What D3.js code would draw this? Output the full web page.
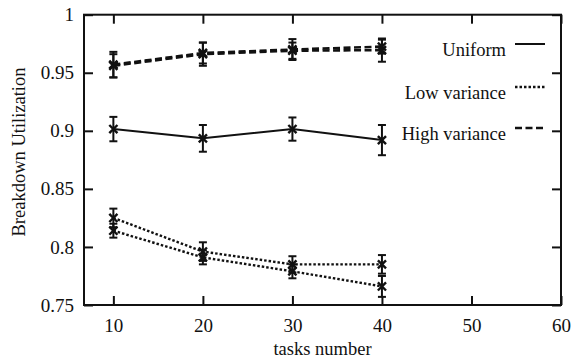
<!DOCTYPE html>
<html><head><meta charset="utf-8">
<script src="https://cdn.jsdelivr.net/npm/d3@7"></script>
<style>body{margin:0;background:#fff}svg{display:block}text{font-family:"Liberation Serif","Times New Roman",serif;fill:#111}</style>
</head><body><svg id="c" width="579" height="361"></svg>
<script>
const tasks = [10, 20, 30, 40];
const xTicks = [10, 20, 30, 40, 50, 60];
const yTicks = [0.75, 0.8, 0.85, 0.9, 0.95, 1];
const yTickLabels = ["0.75", "0.8", "0.85", "0.9", "0.95", "1"];

const uniform = [0.9015, 0.8935, 0.9015, 0.892];
const uniformErr = [0.0105, 0.0115, 0.010, 0.013];
const lowA = [0.825, 0.796, 0.785, 0.785];
const lowAErr = [0.008, 0.008, 0.007, 0.008];
const lowB = [0.814, 0.791, 0.779, 0.766];
const lowBErr = [0.006, 0.006, 0.006, 0.009];
const highA = [0.957, 0.967, 0.970, 0.9725];
const highAErr = [0.011, 0.009, 0.009, 0.006];
const highB = [0.956, 0.966, 0.969, 0.9695];
const highBErr = [0.010, 0.010, 0.007, 0.010];

const legendNames = ["Uniform", "Low variance", "High variance"];
const legendDash = [null, "2.5,2", "7,3.5"];

const svg = d3.select("#c");
const L = 84, R = 561, T = 14.7, B = 305;
const x = d3.scaleLinear().domain([6.72, 60]).range([L, R]);
const y = d3.scaleLinear().domain([0.75, 1]).range([B, T]);

// axes (inward ticks)
const gB = svg.append("g").attr("transform", `translate(0,${B})`)
  .call(d3.axisBottom(x).tickValues(xTicks).tickSize(-9).tickPadding(14));
const gT = svg.append("g").attr("transform", `translate(0,${T})`)
  .call(d3.axisTop(x).tickValues(xTicks).tickSize(-9).tickFormat(""));
const gL = svg.append("g").attr("transform", `translate(${L},0)`)
  .call(d3.axisLeft(y).tickValues(yTicks).tickSize(-9).tickPadding(10)
    .tickFormat((d, i) => yTickLabels[i]));
const gR = svg.append("g").attr("transform", `translate(${R},0)`)
  .call(d3.axisRight(y).tickValues(yTicks).tickSize(-9).tickFormat(""));
[gB, gT, gL, gR].forEach(g => {
  g.select(".domain").remove();
  g.selectAll(".tick line").attr("stroke", "#111").attr("stroke-width", 2);
  g.selectAll(".tick text").style("font-size", "19px").attr("fill", "#111");
});

svg.append("rect").attr("x", L).attr("y", T).attr("width", R - L).attr("height", B - T)
  .attr("fill", "none").attr("stroke", "#111").attr("stroke-width", 2);

// axis titles
svg.append("text").attr("x", (L + R) / 2).attr("y", 355).attr("text-anchor", "middle")
  .style("font-size", "18.5px").text("tasks number");
svg.append("text").attr("transform", `translate(25,152) rotate(-90)`).attr("text-anchor", "middle")
  .style("font-size", "18.5px").text("Breakdown Utilization");

// series
const series = [
  {v: uniform, e: uniformErr, dash: legendDash[0], w: 2},
  {v: lowA, e: lowAErr, dash: legendDash[1], w: 2.4},
  {v: lowB, e: lowBErr, dash: legendDash[1], w: 2.4},
  {v: highA, e: highAErr, dash: legendDash[2], w: 2.6},
  {v: highB, e: highBErr, dash: legendDash[2], w: 2.6}
];
const line = d3.line().x(d => x(d[0])).y(d => y(d[1]));
const sym = d3.symbol().type(d3.symbolTimes).size(45);
series.forEach(s => {
  const pts = tasks.map((t, i) => [t, s.v[i], s.e[i]]);
  svg.append("path").datum(pts).attr("d", line).attr("fill", "none")
    .attr("stroke", "#111").attr("stroke-width", s.w)
    .attr("stroke-dasharray", s.dash);
  const g = svg.append("g");
  pts.forEach(p => {
    const cx = x(p[0]), y0 = y(p[1] - p[2]), y1 = y(p[1] + p[2]);
    g.append("line").attr("x1", cx).attr("x2", cx).attr("y1", y0).attr("y2", y1)
      .attr("stroke", "#111").attr("stroke-width", 2);
    [y0, y1].forEach(yy => g.append("line").attr("x1", cx - 4).attr("x2", cx + 4)
      .attr("y1", yy).attr("y2", yy).attr("stroke", "#111").attr("stroke-width", 2));
    g.append("path").attr("d", sym).attr("transform", `translate(${cx},${y(p[1])})`)
      .attr("fill", "none").attr("stroke", "#111").attr("stroke-width", 2.4);
  });
});

// legend
const legY = [56, 99, 140];
legendNames.forEach((n, i) => {
  svg.append("text").attr("x", 506).attr("y", legY[i]).attr("text-anchor", "end")
    .style("font-size", "18.5px").text(n);
  svg.append("line").attr("x1", 515).attr("x2", 545).attr("y1", legY[i] - 12).attr("y2", legY[i] - 12)
    .attr("stroke", "#111").attr("stroke-width", i === 0 ? 2 : 2.4)
    .attr("stroke-dasharray", legendDash[i]);
});
</script></body></html>
